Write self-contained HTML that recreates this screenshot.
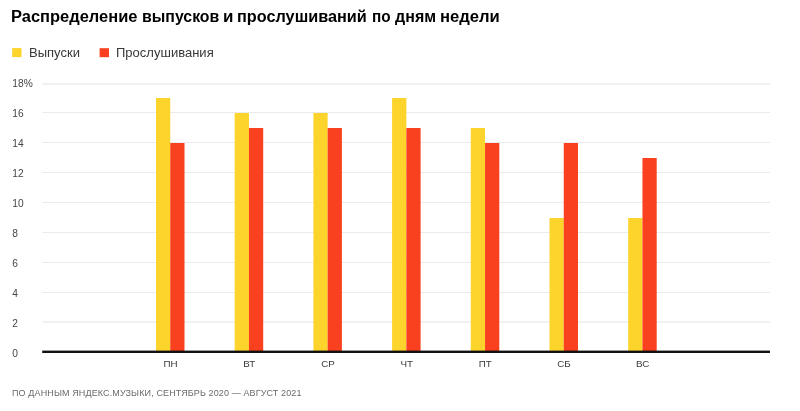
<!DOCTYPE html>
<html lang="ru"><head><meta charset="utf-8"><title>Распределение выпусков и прослушиваний по дням недели</title>
<style>
html,body{margin:0;padding:0;background:#fff;}
body{width:800px;height:411px;position:relative;overflow:hidden;font-family:"Liberation Sans","DejaVu Sans",sans-serif;color:#000;}
svg{position:absolute;left:0;top:0;}
.t{position:absolute;left:0;top:6.6px;width:520px;height:20px;font-size:16px;font-weight:bold;line-height:20px;white-space:nowrap;color:#000;}
.t span{position:absolute;top:0;display:block;transform-origin:0 0;}
.lg{position:absolute;top:44.5px;font-size:12.7px;line-height:16px;color:#383838;white-space:nowrap;transform-origin:0 0;transform:scaleX(1.026);}
.yl{position:absolute;left:12.3px;font-size:10.2px;line-height:14px;color:#444;white-space:nowrap;}
.xl{position:absolute;top:356.9px;width:40px;text-align:center;font-size:9.8px;line-height:14px;color:#3a3a3a;}
.f{position:absolute;left:12px;top:386px;font-size:9px;line-height:14px;color:#6a6a6a;letter-spacing:0.12px;white-space:nowrap;}
</style></head><body>
<svg width="800" height="411" viewBox="0 0 800 411">
<rect x="12.2" y="48.1" width="9.3" height="9" fill="#fdd42b"/>
<rect x="99.6" y="48.2" width="9.4" height="9" fill="#f9401f"/>
<rect x="42.2" y="83" width="727.8" height="2" fill="#f1f1f1"/>
<rect x="42.2" y="112" width="727.8" height="1" fill="#ebebeb"/>
<rect x="42.2" y="142" width="727.8" height="1" fill="#ebebeb"/>
<rect x="42.2" y="172" width="727.8" height="1" fill="#ebebeb"/>
<rect x="42.2" y="202" width="727.8" height="1" fill="#ebebeb"/>
<rect x="42.2" y="232" width="727.8" height="1" fill="#ebebeb"/>
<rect x="42.2" y="262" width="727.8" height="1" fill="#ebebeb"/>
<rect x="42.2" y="292" width="727.8" height="1" fill="#ebebeb"/>
<rect x="42.2" y="321" width="727.8" height="2" fill="#f1f1f1"/>
<rect x="156.00" y="98.00" width="14.25" height="253.50" fill="#fdd42b"/>
<rect x="170.25" y="143.00" width="14.25" height="208.50" fill="#f9401f"/>
<rect x="234.70" y="113.00" width="14.25" height="238.50" fill="#fdd42b"/>
<rect x="248.95" y="128.00" width="14.25" height="223.50" fill="#f9401f"/>
<rect x="313.40" y="113.00" width="14.25" height="238.50" fill="#fdd42b"/>
<rect x="327.65" y="128.00" width="14.25" height="223.50" fill="#f9401f"/>
<rect x="392.10" y="98.00" width="14.25" height="253.50" fill="#fdd42b"/>
<rect x="406.35" y="128.00" width="14.25" height="223.50" fill="#f9401f"/>
<rect x="470.80" y="128.00" width="14.25" height="223.50" fill="#fdd42b"/>
<rect x="485.05" y="143.00" width="14.25" height="208.50" fill="#f9401f"/>
<rect x="549.50" y="218.00" width="14.25" height="133.50" fill="#fdd42b"/>
<rect x="563.75" y="143.00" width="14.25" height="208.50" fill="#f9401f"/>
<rect x="628.20" y="218.00" width="14.25" height="133.50" fill="#fdd42b"/>
<rect x="642.45" y="158.00" width="14.25" height="193.50" fill="#f9401f"/>
<rect x="42.2" y="350.6" width="727.8" height="2.4" fill="#111"/>
</svg>
<div class="t"><span style="left:11.37px;transform:scaleX(1.0285)">Распределение</span> <span style="left:142.31px;transform:scaleX(0.9915)">выпусков</span> <span style="left:223.44px;transform:scaleX(1.0581)">и</span> <span style="left:237.23px;transform:scaleX(1.0159)">прослушиваний</span> <span style="left:371.54px;transform:scaleX(0.9577)">по</span> <span style="left:395.10px;transform:scaleX(1.0)">дням</span> <span style="left:440.46px;transform:scaleX(1.0378)">недели</span></div>
<div class="lg" style="left:28.6px">Выпуски</div>
<div class="lg" style="left:115.8px">Прослушивания</div>
<div class="yl" style="top:77.40px">18%</div>
<div class="yl" style="top:107.40px">16</div>
<div class="yl" style="top:137.40px">14</div>
<div class="yl" style="top:167.40px">12</div>
<div class="yl" style="top:197.40px">10</div>
<div class="yl" style="top:227.40px">8</div>
<div class="yl" style="top:257.40px">6</div>
<div class="yl" style="top:287.40px">4</div>
<div class="yl" style="top:317.40px">2</div>
<div class="yl" style="top:347.40px">0</div>
<div class="xl" style="left:150.55px">ПН</div>
<div class="xl" style="left:229.25px">ВТ</div>
<div class="xl" style="left:307.95px">СР</div>
<div class="xl" style="left:386.65px">ЧТ</div>
<div class="xl" style="left:465.35px">ПТ</div>
<div class="xl" style="left:544.05px">СБ</div>
<div class="xl" style="left:622.75px">ВС</div>
<div class="f">ПО ДАННЫМ ЯНДЕКС.МУЗЫКИ, СЕНТЯБРЬ 2020 — АВГУСТ 2021</div>
</body></html>
